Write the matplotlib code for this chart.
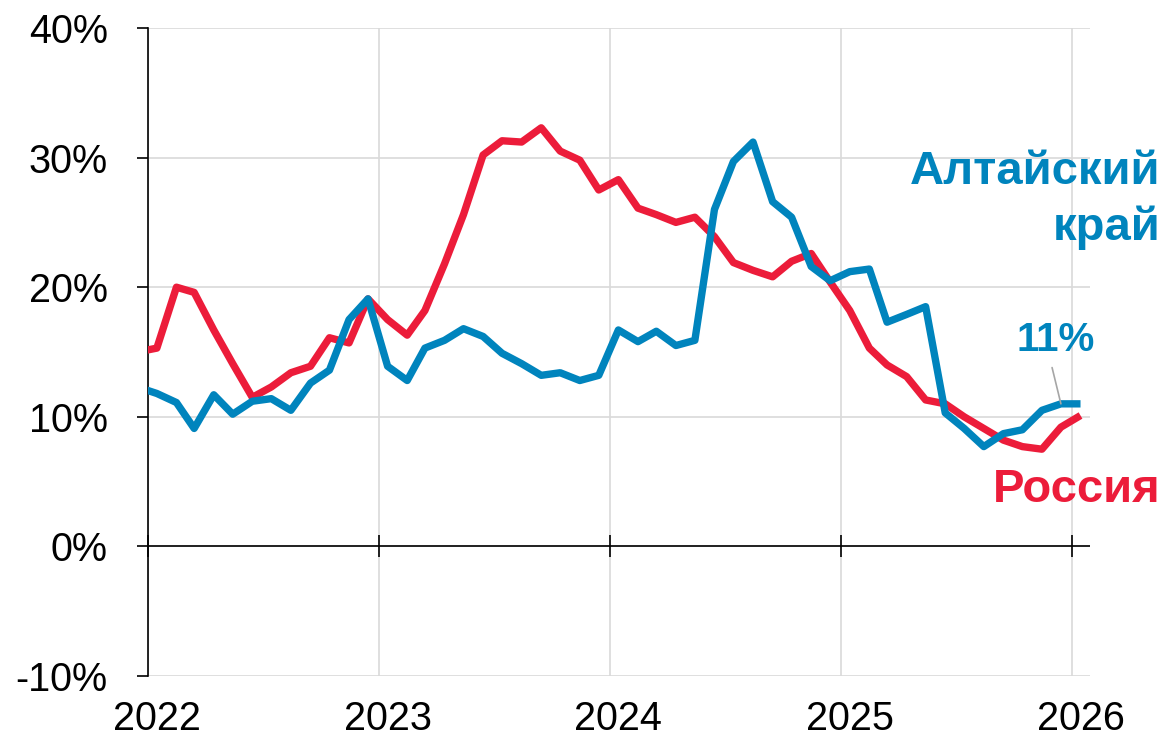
import numpy as np
import pandas as pd
import matplotlib
matplotlib.use('Agg')
import matplotlib.pyplot as plt

plt.rcParams['font.family'] = ['Liberation Sans', 'DejaVu Sans']

# monthly points, Dec 2021 .. Jan 2026 (mid-month)
months = pd.date_range('2021-12-01', '2026-01-01', freq='MS') + pd.Timedelta(days=14)

russia = [15.0,
          15.3, 20.0, 19.6, 16.7, 14.1, 11.5, 12.3, 13.4, 13.9, 16.1, 15.7, 19.1,
          17.5, 16.3, 18.2, 21.8, 25.6, 30.2, 31.3, 31.2, 32.3, 30.5, 29.8, 27.5,
          28.3, 26.1, 25.6, 25.0, 25.4, 23.9, 21.9, 21.3, 20.8, 22.0, 22.6, 20.4,
          18.2, 15.3, 14.0, 13.1, 11.3, 11.0, 10.0, 9.1, 8.2, 7.7, 7.5, 9.2,
          10.1]

altai = [12.3,
         11.8, 11.1, 9.1, 11.7, 10.2, 11.2, 11.4, 10.5, 12.6, 13.6, 17.5, 19.1,
         13.9, 12.8, 15.3, 15.9, 16.8, 16.2, 14.9, 14.1, 13.2, 13.4, 12.8, 13.2,
         16.7, 15.8, 16.6, 15.5, 15.9, 26.0, 29.7, 31.2, 26.6, 25.4, 21.6, 20.5,
         21.2, 21.4, 17.3, 17.9, 18.5, 10.3, 9.1, 7.7, 8.7, 9.0, 10.5, 11.0,
         11.0]

year_ticks = pd.to_datetime(['2022-01-01', '2023-01-01', '2024-01-01', '2025-01-01', '2026-01-01'])
year_label_pos = year_ticks + pd.Timedelta(days=14)
year_labels = ['2022', '2023', '2024', '2025', '2026']
y_ticks = [-10, 0, 10, 20, 30, 40]

red = '#EC1C3A'
blue = '#0084BD'

fig = plt.figure(figsize=(11.65, 7.45), dpi=100)
ax = fig.add_axes([148 / 1165, 1 - 676 / 745, (1090 - 148) / 1165, (676 - 28) / 745])

ax.plot(months, russia, color=red, lw=5.3, solid_capstyle='butt', solid_joinstyle='round', zorder=3)
ax.plot(months, altai, color=blue, lw=5.3, solid_capstyle='butt', solid_joinstyle='round', zorder=4)

ax.set_xlim(pd.Timestamp('2022-01-01'), pd.Timestamp('2026-01-30'))
ax.set_ylim(-10, 40)

for s in ['top', 'right', 'bottom']:
    ax.spines[s].set_visible(False)
ax.spines['left'].set_linewidth(1.2)

ax.set_yticks(y_ticks)
ax.set_yticklabels([f'{v}%' for v in y_ticks])
ax.tick_params(axis='y', direction='out', length=8, width=1.2, pad=21, labelsize=28.5)

# year grid at Jan 1, labels centred on January
ax.set_xticks(year_ticks)
ax.set_xticklabels([])
ax.set_xticks(year_label_pos, year_labels, minor=True)
ax.tick_params(axis='x', which='both', length=0, pad=17, labelsize=28.5)

ax.grid(True, which='major', color='#d9d9d9', lw=1.2)
ax.set_axisbelow(True)

# zero line with year ticks
ax.axhline(0, color='black', lw=1.2, zorder=2.5)
sec = ax.secondary_xaxis(0.2)
sec.set_xticks(year_ticks)
sec.tick_params(direction='inout', length=16, width=1.2, color='black', labelbottom=False)
sec.spines['bottom'].set_visible(False)
sec.set_zorder(2.6)

# labels
fig.text(1160 / 1165, 1 - 172 / 745, 'Алтайский', ha='right', va='center',
         fontsize=34, fontweight='bold', color=blue)
fig.text(1160 / 1165, 1 - 228 / 745, 'край', ha='right', va='center',
         fontsize=34, fontweight='bold', color=blue)
fig.text(1160 / 1165, 1 - 490 / 745, 'Россия', ha='right', va='center',
         fontsize=34, fontweight='bold', color=red)
fig.text(1056 / 1165, 1 - 340 / 745, '11%', ha='center', va='center',
         fontsize=29, fontweight='bold', color=blue)

ax.annotate('', xy=(months[-2], altai[-2]), xytext=(pd.Timestamp('2025-12-01'), 13.8),
            arrowprops=dict(arrowstyle='-', color='#a6a6a6', lw=1.2, shrinkA=0, shrinkB=0),
            zorder=5)

fig.savefig('out.png', dpi=100)
